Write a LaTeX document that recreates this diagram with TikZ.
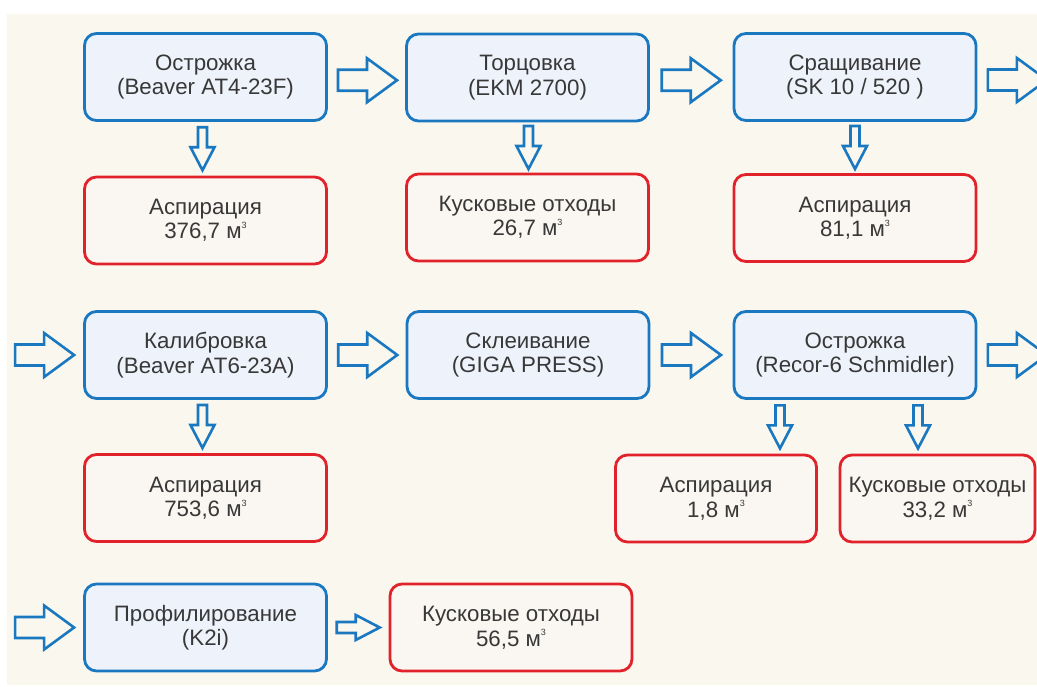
\documentclass[tikz,border=0pt]{standalone}
\usepackage{fontspec}
\setmainfont{Liberation Sans}
\usetikzlibrary{calc}
\definecolor{bgc}{HTML}{FAF7EF}
\definecolor{bluec}{HTML}{1A78C0}
\definecolor{bluefill}{HTML}{EEF2FA}
\definecolor{redc}{HTML}{E2222A}
\definecolor{redfill}{HTML}{FAF7F2}
\definecolor{txtc}{HTML}{383838}
\newcommand{\cubm}{м\raisebox{0.85ex}{\fontsize{9}{9}\selectfont 3}}
\tikzset{
  x=1pt, y=-1pt,
  box/.style={rounded corners=12pt, line width=2.8pt, align=center, text=txtc,
    font=\fontsize{22.3}{24.5}\selectfont, inner sep=0pt, minimum height=87pt},
  procbox/.style={box, draw=bluec, fill=bluefill, minimum width=242pt},
  wastebox/.style={box, draw=redc, fill=redfill, minimum width=242pt},
  blk/.style={draw=bluec, fill=bgc, line width=2.6pt, line join=miter},
  pics/harr/.style n args={4}{code={%
    \draw[blk] (-#1/2,-#2/2) -- (#1/2-#4,-#2/2) -- (#1/2-#4,-#3/2) -- (#1/2,0)
      -- (#1/2-#4,#3/2) -- (#1/2-#4,#2/2) -- (-#1/2,#2/2) -- cycle;}},
}
\begin{document}
\begin{tikzpicture}
\useasboundingbox (0,0) rectangle (1037,686);
\clip (0,0) rectangle (1037,686);
\fill[white] (0,0) rectangle (1037,686);
\fill[bgc] (7,14) rectangle (1037,685);

% row 1
\node[procbox] (ostr) at (205.5,77) {Острожка\\(Beaver AT4-23F)};
\node[procbox] (torc) at (527.5,77.5) {Торцовка\\(EKM 2700)};
\node[procbox] (sras) at (855,77) {Сращивание\\(SK 10 / 520 )};
\node[wastebox] (asp1) at (205.5,220.5) {Аспирация\\376,7 \cubm};
\node[wastebox] (kus1) at (527.5,217.5) {Кусковые отходы\\26,7 \cubm};
\node[wastebox] (asp2) at (855,218) {Аспирация\\81,1 \cubm};

% row 2
\node[procbox] (kal) at (205.5,355) {Калибровка\\(Beaver AT6-23A)};
\node[procbox] (skl) at (528,355) {Склеивание\\(GIGA PRESS)};
\node[procbox] (recor) at (855,355) {Острожка\\(Recor-6 Schmidler)};
\node[wastebox] (asp3) at (205.5,498) {Аспирация\\753,6 \cubm};
\node[wastebox, minimum width=201pt] (asp4) at (716,498.5) {Аспирация\\1,8 \cubm};
\node[wastebox, minimum width=195pt] (kus2) at (937.5,498.5) {Кусковые отходы\\33,2 \cubm};

% row 3
\node[procbox] (prof) at (205.5,627.5) {Профилирование\\(K2i)};
\node[wastebox] (kus3) at (511,627.5) {Кусковые отходы\\56,5 \cubm};

% horizontal block arrows
\pic at ($(ostr.east)!0.5!(torc.west)+(1,3)$) {harr={59}{21}{44}{30}};
\pic at ($(torc.east)!0.5!(sras.west)+(0,3)$) {harr={59}{21}{44}{30}};
\pic at ($(sras.east)+(40,3)$) {harr={59}{21}{44}{30}};
\pic at ($(kal.west)+(-38.5,0)$) {harr={59}{21}{44}{30}};
\pic at ($(kal.east)!0.5!(skl.west)+(1,0)$) {harr={59}{21}{44}{30}};
\pic at ($(skl.east)!0.5!(recor.west)$) {harr={59}{21}{44}{30}};
\pic at ($(recor.east)+(40,0)$) {harr={59}{21}{44}{30}};
\pic at ($(prof.west)+(-38.5,0)$) {harr={59}{21}{44}{30}};
\pic at ($(prof.east)!0.5!(kus3.west)$) {harr={43}{11}{25}{24}};

% vertical block arrows
\pic[rotate=-90] at ($(ostr.south)!0.5!(asp1.north)+(-3,0)$) {harr={43}{9}{24}{23}};
\pic[rotate=-90] at ($(torc.south)!0.5!(kus1.north)+(1,0)$) {harr={43}{9}{24}{23}};
\pic[rotate=-90] at ($(sras.south)!0.5!(asp2.north)$) {harr={43}{9}{24}{23}};
\pic[rotate=-90] at ($(kal.south)!0.5!(asp3.north)+(-3,0)$) {harr={43}{9}{24}{23}};
\pic[rotate=-90] at ($(recor.south)+(-75,27)$) {harr={43}{9}{24}{23}};
\pic[rotate=-90] at ($(recor.south)+(63,27)$) {harr={43}{9}{24}{23}};
\end{tikzpicture}
\end{document}
